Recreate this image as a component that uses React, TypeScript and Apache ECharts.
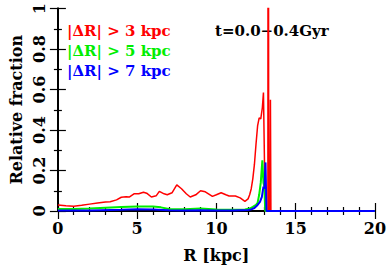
import React, { useEffect, useRef } from "react";
import * as echarts from "echarts";

const xTicks = [0, 5, 10, 15, 20];
const yTicks = [0, 0.2, 0.4, 0.6, 0.8, 1];

const redR = [0, 0.5, 1, 1.5, 2, 2.5, 3, 3.3, 3.7, 4, 4.3, 4.5, 4.8, 5.1, 5.4, 5.6, 5.9, 6.2, 6.4, 6.7, 6.9, 7.2, 7.5, 7.8, 8.1, 8.35, 8.7, 9.0, 9.3, 9.75, 10.0, 10.3, 10.6, 10.8, 11.2, 11.5, 11.8, 12.0, 12.1, 12.2, 12.3, 12.4, 12.5, 12.6, 12.7, 12.8, 12.9, 12.97, 13.08, 13.25, 13.27, 13.28, 13.30, 13.38, 13.41, 13.44, 15, 20];
const redF = [0.03, 0.026, 0.024, 0.028, 0.034, 0.04, 0.045, 0.046, 0.055, 0.068, 0.07, 0.069, 0.085, 0.085, 0.093, 0.088, 0.069, 0.075, 0.097, 0.085, 0.08, 0.09, 0.129, 0.11, 0.085, 0.069, 0.08, 0.1, 0.095, 0.072, 0.08, 0.09, 0.08, 0.074, 0.074, 0.065, 0.048, 0.06, 0.08, 0.11, 0.16, 0.23, 0.33, 0.42, 0.46, 0.455, 0.51, 0.585, 0, 0, 4, 4, 0, 0, 0.55, 0, 0, 0];

const greenR = [0, 1, 2, 3, 4, 5, 6, 6.5, 7, 8, 9, 9.5, 10, 11, 11.8, 12.1, 12.3, 12.5, 12.6, 12.7, 12.8, 12.9, 12.97, 13.03, 13.08, 15, 20];
const greenF = [0.01, 0.01, 0.012, 0.016, 0.02, 0.022, 0.022, 0.018, 0.01, 0.009, 0.012, 0.01, 0.007, 0.006, 0.008, 0.012, 0.02, 0.03, 0.04, 0.08, 0.14, 0.25, 0.14, 0.12, 0, 0, 0];

const blueR = [0, 2, 4, 5, 6, 7, 8, 9, 10, 11, 12, 12.2, 12.4, 12.6, 12.75, 12.87, 12.97, 13.03, 13.1, 13.16, 15, 20];
const blueF = [0.002, 0.003, 0.006, 0.009, 0.007, 0.004, 0.003, 0.004, 0.003, 0.003, 0.005, 0.008, 0.015, 0.03, 0.045, 0.07, 0.12, 0.11, 0.24, 0, 0, 0];

const legendLabels = ["|ΔR| > 3 kpc", "|ΔR| > 5 kpc", "|ΔR| > 7 kpc"];
const colors = ["#ff0000", "#00ee00", "#0000ff"];
const timeLabel = "t=0.0−0.4Gyr";
const xName = "R [kpc]";
const yName = "Relative fraction";

const FONT = "DejaVu Serif";

const zip = (a: number[], b: number[]) => a.map((v, i) => [v, b[i]]);

export default function App() {
  const ref = useRef<HTMLDivElement>(null);
  useEffect(() => {
    if (!ref.current) return;
    const chart = echarts.init(ref.current, null, { renderer: "svg" });
    const axisLine = { show: true, lineStyle: { color: "#000", width: 2 } };
    const tick = { show: true, inside: true, length: 8, lineStyle: { color: "#000", width: 1.2 } };
    const xMinor = { show: true, splitNumber: 5, length: 4, lineStyle: { color: "#000", width: 1.2 } };
    const yMinor = { show: true, splitNumber: 2, length: 4, lineStyle: { color: "#000", width: 1.2 } };
    const labelStyle = { color: "#000", fontFamily: FONT, fontSize: 16, fontWeight: "bold" as const };
    chart.setOption({
      animation: false,
      grid: { left: 50, right: 11, top: 4, bottom: 62, containLabel: false },
      xAxis: [
        {
          type: "value", min: xTicks[0], max: xTicks[xTicks.length - 1], interval: 5,
          axisLine, axisTick: tick, minorTick: xMinor, splitLine: { show: false },
          axisLabel: { ...labelStyle, margin: 9, formatter: (v: number) => String(v) },
          name: xName, nameLocation: "middle", nameGap: 36,
          nameTextStyle: { ...labelStyle },
        },
        {
          type: "value", position: "top", min: 0, max: 20, interval: 5,
          axisLine, axisTick: tick, minorTick: xMinor, splitLine: { show: false },
          axisLabel: { show: false },
        },
      ],
      yAxis: [
        {
          type: "value", min: yTicks[0], max: yTicks[yTicks.length - 1], interval: 0.2,
          axisLine, axisTick: tick, minorTick: yMinor, splitLine: { show: false },
          axisLabel: { ...labelStyle, rotate: 90, margin: 10, formatter: (v: number) => String(+v.toFixed(1)) },
          name: yName, nameLocation: "middle", nameGap: 33, nameRotate: 90,
          nameTextStyle: { ...labelStyle },
        },
        {
          type: "value", position: "right", min: 0, max: 1, interval: 0.2,
          axisLine, axisTick: tick, minorTick: yMinor, splitLine: { show: false },
          axisLabel: { show: false },
        },
      ],
      series: [
        { type: "line", data: zip(redR, redF), showSymbol: false, lineStyle: { color: colors[0], width: 1.5 }, clip: true },
        { type: "line", data: zip(greenR, greenF), showSymbol: false, lineStyle: { color: colors[1], width: 2 }, clip: true },
        { type: "line", data: zip(blueR, blueF), showSymbol: false, lineStyle: { color: colors[2], width: 2 }, clip: true },
      ],
      graphic: [
        ...legendLabels.map((t, i) => ({
          type: "text", left: 67, top: 23 + i * 20,
          style: { text: t, fill: colors[i], font: `bold 15px "${FONT}"` },
        })),
        { type: "text", left: 215, top: 23, style: { text: timeLabel, fill: "#000", font: `bold 15px "${FONT}"` } },
      ],
    });
    return () => chart.dispose();
  }, []);
  return <div ref={ref} style={{ position: "absolute", left: 0, top: 0, width: 389, height: 273 }} />;
}
